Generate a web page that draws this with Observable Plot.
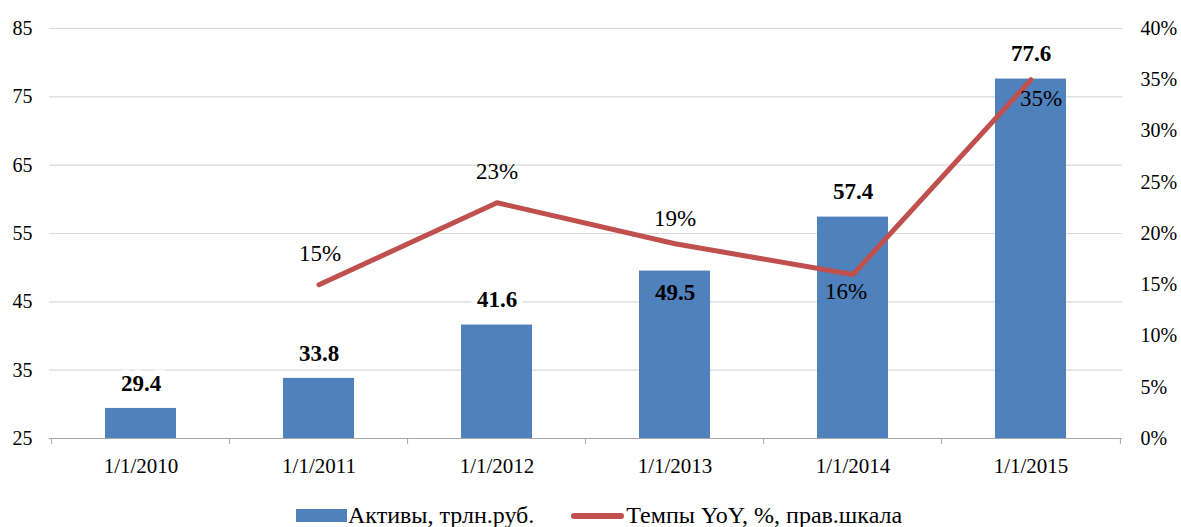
<!DOCTYPE html>
<html><head><meta charset="utf-8">
<script src="https://cdn.jsdelivr.net/npm/d3@7"></script>
<script src="https://cdn.jsdelivr.net/npm/@observablehq/plot@0.6"></script>
<style>
body{margin:0;background:#fff;font-family:"Liberation Serif",serif;}
#wrap{position:relative;width:1181px;height:527px;overflow:hidden;background:#fff}
#chart{position:absolute;left:0;top:0}
.legend{position:absolute;top:502px;left:296px;display:flex;align-items:center;font-size:24px;color:#000;white-space:nowrap;font-family:"Liberation Serif",serif}
.sw-bar{width:51px;height:13px;background:#4f81bd;margin-right:1px}
.sw-line{width:53px;height:6px;background:#c0504d;border-radius:3px;margin-left:37px;margin-right:2px}
</style>
</head><body>
<div id="wrap"><div id="chart"></div>
<div class="legend"><span class="sw-bar"></span><span>Активы, трлн.руб.</span><span class="sw-line"></span><span>Темпы YoY, %, прав.шкала</span></div>
</div>
<script>
// ---- data ----
const years = ["1/1/2010","1/1/2011","1/1/2012","1/1/2013","1/1/2014","1/1/2015"];
const assets = [29.4, 33.8, 41.6, 49.5, 57.4, 77.6];
const growthYears = ["1/1/2011","1/1/2012","1/1/2013","1/1/2014","1/1/2015"];
const growthPct = [15, 23, 19, 16, 35];
const leftTicks = [25, 35, 45, 55, 65, 75, 85];
const rightTicks = [0, 5, 10, 15, 20, 25, 30, 35, 40];

// ---- layout ----
const W = 1181, H = 495, ML = 49, MR = 59, MT = 28, MB = 57;
const step = (W - ML - MR) / years.length;
const yMin = leftTicks[0], yMax = leftTicks[leftTicks.length - 1];
const rMax = rightTicks[rightTicks.length - 1];
const toLeft = p => yMin + p * (yMax - yMin) / rMax;
const barLabelDy = [-25, -25, -25, 22, -25, -25];
const barLabelHalo = [true, true, true, false, true, true];
const pctLabelDy = [-31, -31, -25, 17, 19];
const pctLabelDx = [1, 0, 0, -7, 10];

const barData = years.map((y, i) => ({year: y, v: assets[i], dy: barLabelDy[i], halo: barLabelHalo[i]}));
const lineData = growthYears.map((y, i) => ({year: y, p: growthPct[i], yl: toLeft(growthPct[i]), dy: pctLabelDy[i], dx: pctLabelDx[i]}));

const plot = Plot.plot({
  width: W, height: H,
  marginLeft: ML, marginRight: MR, marginTop: MT, marginBottom: MB,
  style: {fontFamily: "Liberation Serif, serif", fontSize: "20px", color: "#000", background: "#fff"},
  x: {domain: years, paddingInner: 0.6, paddingOuter: 0.3, label: null},
  y: {domain: [yMin, yMax], label: null},
  marks: [
    Plot.gridY({ticks: leftTicks.slice(1), stroke: "#d9d9d9", strokeOpacity: 1, strokeWidth: 1.2}),
    Plot.barY(barData, {x: "year", y1: () => yMin, y2: "v", fill: "#4f81bd"}),
    Plot.ruleY([yMin], {stroke: "#a6a6a6", strokeWidth: 1.2}),
    Plot.axisX({tickSize: 6, tickFormat: () => "", dx: -step / 2, stroke: "#a6a6a6", label: null}),
    Plot.axisX({ticks: [years[years.length - 1]], tickSize: 6, tickFormat: () => "", dx: step / 2, stroke: "#a6a6a6", label: null}),
    Plot.axisX({tickSize: 0, tickPadding: 20, fontSize: 21, label: null}),
    Plot.axisY({ticks: leftTicks, anchor: "left", tickSize: 0, tickPadding: 17, fontSize: 20, label: null}),
    Plot.axisY({ticks: rightTicks.map(toLeft), anchor: "right", tickSize: 0, tickPadding: 18, fontSize: 20, label: null,
      tickFormat: v => `${Math.round((v - yMin) * rMax / (yMax - yMin))}%`}),
    ...barData.map(d => Plot.text([d], {x: "year", y: "v", text: d => d.v.toFixed(1), dy: d.dy, fontWeight: "bold", fontSize: 23, fill: "#000",
      stroke: d.halo ? "#fff" : "none", strokeWidth: 12, strokeLinejoin: "miter"})),
    Plot.line(lineData, {x: "year", y: "yl", stroke: "#c0504d", strokeWidth: 5, strokeLinejoin: "miter"}),
    ...lineData.map(d => Plot.text([d], {x: "year", y: "yl", text: d => `${d.p}%`, dy: d.dy, dx: d.dx, fontSize: 23, fill: "#000"}))
  ]
});
document.getElementById("chart").appendChild(plot);
</script>
</body></html>
